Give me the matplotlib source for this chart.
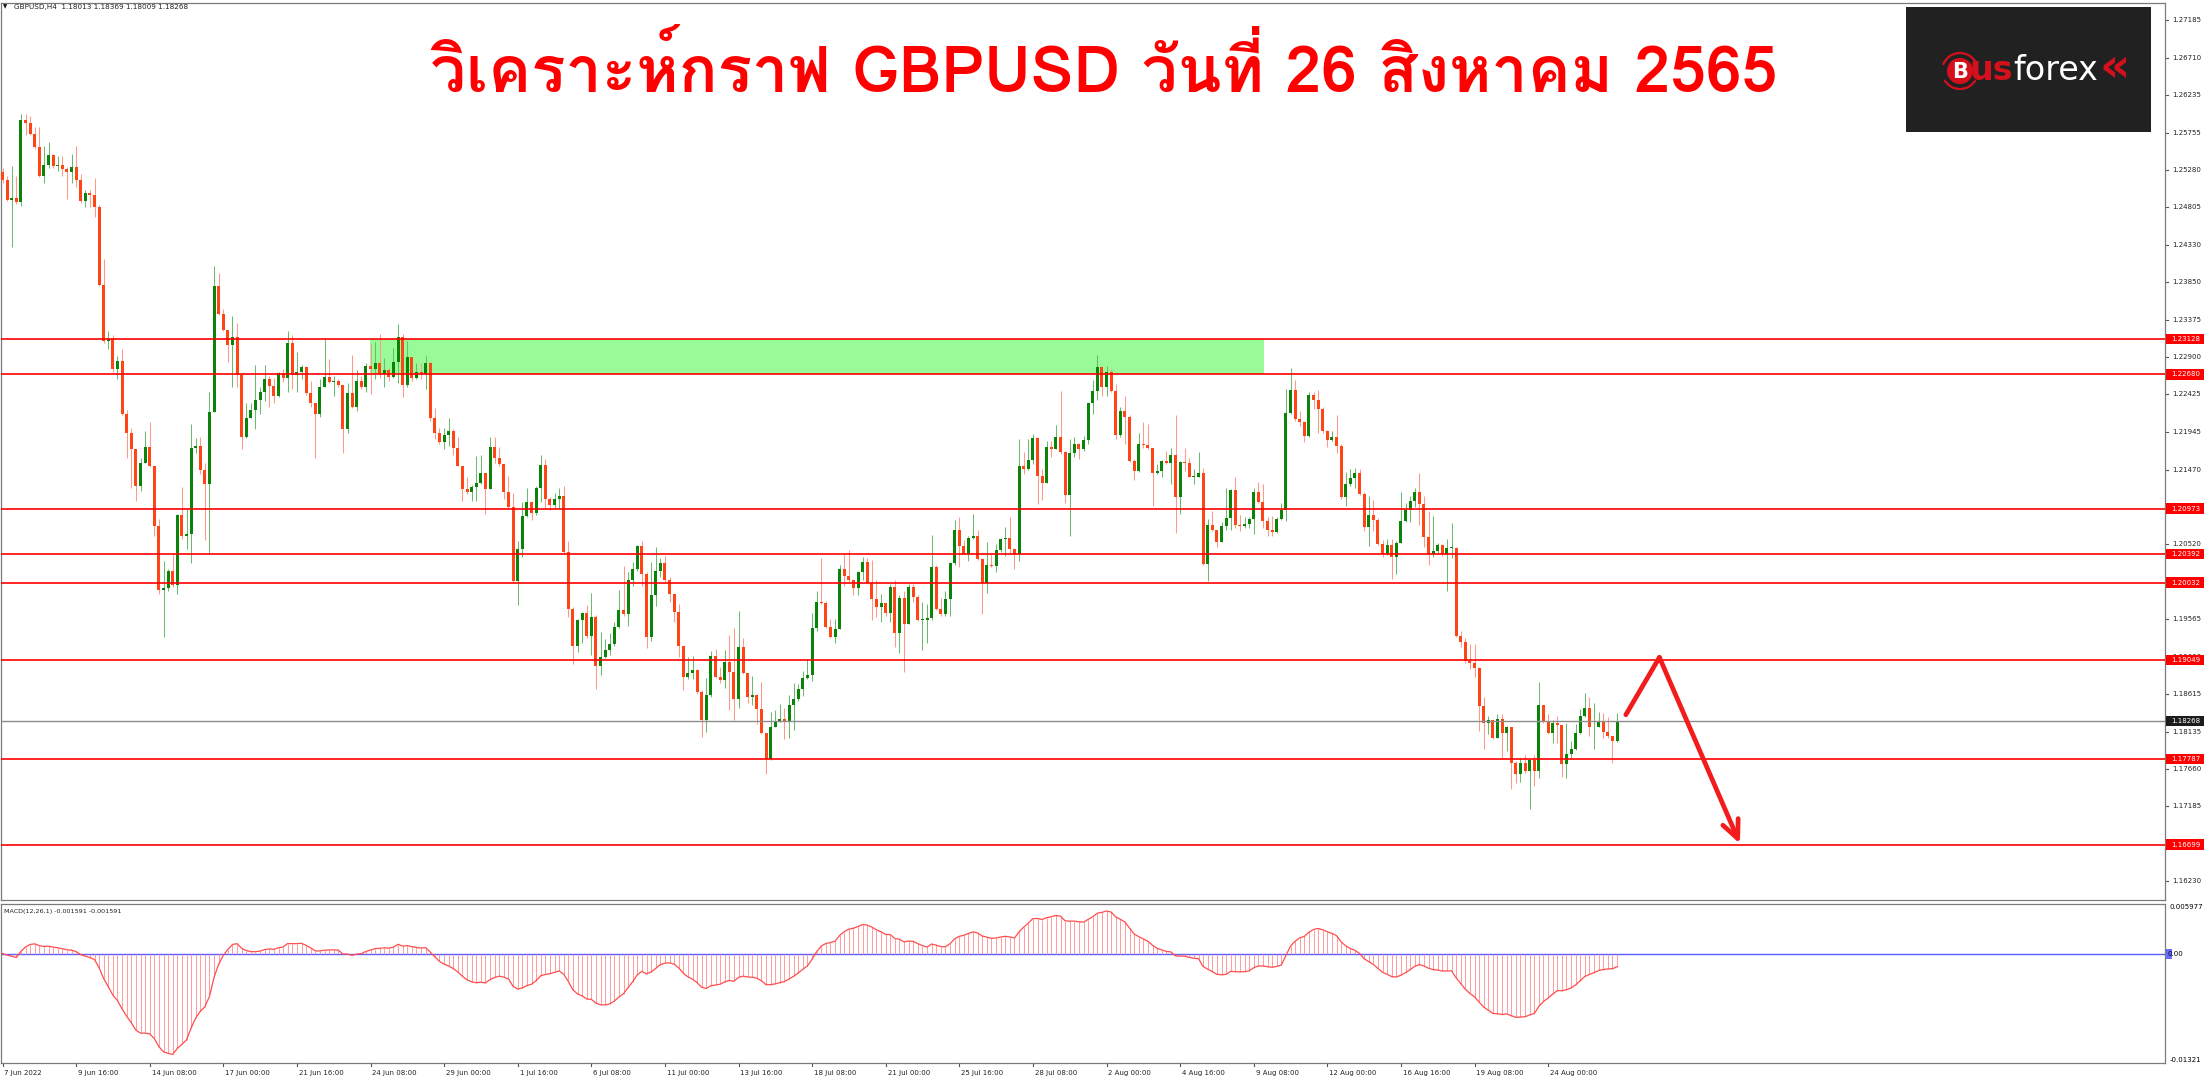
import numpy as np
import matplotlib
matplotlib.use('Agg')
import matplotlib.pyplot as plt
from matplotlib import font_manager
from matplotlib.ft2font import FT2Font
from matplotlib.font_manager import FontProperties
from matplotlib.patches import Rectangle, Circle, Arc

W, H = 2209, 1080

# GBPUSD H4, 7 Jun 2022 -> 26 Aug 2022 (open of each bar = previous close)
first_open = 1.2525
closes = [
    1.2515, 1.2490, 1.2493, 1.2487, 1.2592, 1.2588, 1.2574, 1.2557, 1.2521, 1.2535,
    1.2547, 1.2533, 1.2534, 1.2529, 1.2525, 1.2532, 1.2515, 1.2489, 1.2499, 1.2496,
    1.2481, 1.2382, 1.2310, 1.2313, 1.2275, 1.2285, 1.2218, 1.2193, 1.2173, 1.2126,
    1.2155, 1.2176, 1.2152, 1.2075, 1.1994, 1.1996, 1.2018, 1.2000, 1.2089, 1.2062,
    1.2065, 1.2175, 1.2177, 1.2146, 1.2128, 1.2220, 1.2380, 1.2345, 1.2324, 1.2305,
    1.2315, 1.2267, 1.2189, 1.2212, 1.2223, 1.2235, 1.2245, 1.2262, 1.2253, 1.2241,
    1.2270, 1.2264, 1.2308, 1.2267, 1.2271, 1.2277, 1.2244, 1.2232, 1.2217, 1.2252,
    1.2265, 1.2258, 1.2260, 1.2255, 1.2199, 1.2244, 1.2227, 1.2259, 1.2252, 1.2279,
    1.2275, 1.2282, 1.2268, 1.2274, 1.2265, 1.2284, 1.2316, 1.2255, 1.2290, 1.2264,
    1.2271, 1.2269, 1.2283, 1.2212, 1.2193, 1.2182, 1.2191, 1.2196, 1.2174, 1.2152,
    1.2122, 1.2118, 1.2125, 1.2130, 1.2142, 1.2122, 1.2176, 1.2162, 1.2154, 1.2119,
    1.2099, 1.2005, 1.2046, 1.2088, 1.2106, 1.2092, 1.2123, 1.2153, 1.2110, 1.2102,
    1.2110, 1.2113, 1.2042, 1.1969, 1.1923, 1.1955, 1.1965, 1.1935, 1.1959, 1.1897,
    1.1909, 1.1918, 1.1925, 1.1947, 1.1968, 1.1963, 1.2007, 1.2020, 1.2050, 1.2014,
    1.1934, 1.1987, 1.2018, 1.2028, 1.2006, 1.1989, 1.1966, 1.1923, 1.1883, 1.1888,
    1.1892, 1.1864, 1.1828, 1.1860, 1.1910, 1.1883, 1.1879, 1.1902, 1.1890, 1.1855,
    1.1921, 1.1888, 1.1857, 1.1860, 1.1842, 1.1812, 1.1779, 1.1820, 1.1826, 1.1830,
    1.1827, 1.1847, 1.1855, 1.1868, 1.1882, 1.1886, 1.1945, 1.1979, 1.1977, 1.1947,
    1.1934, 1.1944, 1.2021, 1.2011, 1.2006, 1.1996, 1.2016, 1.2029, 1.2003, 1.1982,
    1.1972, 1.1977, 1.1964, 1.1998, 1.1939, 1.1984, 1.1950, 1.1998, 1.1985, 1.1956,
    1.1956, 1.1958, 1.2023, 1.1970, 1.1963, 1.1982, 1.2028, 1.2070, 1.2050, 1.2040,
    1.2060, 1.2063, 1.2033, 1.2003, 1.2025, 1.2024, 1.2045, 1.2059, 1.2060, 1.2046,
    1.2039, 1.2152, 1.2148, 1.2159, 1.2187, 1.2139, 1.2130, 1.2176, 1.2173, 1.2188,
    1.2169, 1.2114, 1.2168, 1.2180, 1.2173, 1.2184, 1.2231, 1.2247, 1.2277, 1.2252,
    1.2271, 1.2247, 1.2191, 1.2221, 1.2214, 1.2158, 1.2145, 1.2180, 1.2178, 1.2174,
    1.2142, 1.2145, 1.2158, 1.2155, 1.2165, 1.2112, 1.2156, 1.2155, 1.2138, 1.2138,
    1.2143, 1.2027, 1.2077, 1.2070, 1.2055, 1.2075, 1.2085, 1.2121, 1.2077, 1.2075,
    1.2078, 1.2084, 1.2119, 1.2106, 1.2082, 1.2070, 1.2068, 1.2084, 1.2095, 1.2219,
    1.2248, 1.2211, 1.2208, 1.2190, 1.2242, 1.2236, 1.2224, 1.2196, 1.2184, 1.2189,
    1.2177, 1.2112, 1.2129, 1.2136, 1.2142, 1.2116, 1.2074, 1.2089, 1.2083, 1.2052,
    1.2039, 1.2051, 1.2036, 1.2054, 1.2081, 1.2095, 1.2107, 1.2119, 1.2103, 1.2061,
    1.2040, 1.2043, 1.2051, 1.2039, 1.2047, 1.2047, 1.1935, 1.1928, 1.1904, 1.1901,
    1.1895, 1.1846, 1.1825, 1.1828, 1.1806, 1.1829, 1.1812, 1.1819, 1.1774, 1.1760,
    1.1773, 1.1763, 1.1777, 1.1764, 1.1847, 1.1826, 1.1812, 1.1824, 1.1822, 1.1772,
    1.1785, 1.1791, 1.1812, 1.1833, 1.1843, 1.1819, 1.1819, 1.1826, 1.1813, 1.1808,
    1.1801, 1.18268,
]
highs = [
    1.2530, 1.2520, 1.2533, 1.2520, 1.2599, 1.2599, 1.2597, 1.2583, 1.2583, 1.2559,
    1.2564, 1.2549, 1.2546, 1.2546, 1.2532, 1.2549, 1.2558, 1.2523, 1.2503, 1.2502,
    1.2518, 1.2484, 1.2415, 1.2323, 1.2318, 1.2291, 1.2300, 1.2223, 1.2200, 1.2173,
    1.2162, 1.2196, 1.2207, 1.2152, 1.2084, 1.2030, 1.2020, 1.2040, 1.2090, 1.2125,
    1.2098, 1.2205, 1.2187, 1.2189, 1.2155, 1.2246, 1.2406, 1.2397, 1.2351, 1.2325,
    1.2342, 1.2334, 1.2268, 1.2232, 1.2232, 1.2280, 1.2252, 1.2280, 1.2266, 1.2264,
    1.2271, 1.2275, 1.2323, 1.2318, 1.2296, 1.2280, 1.2279, 1.2259, 1.2232, 1.2262,
    1.2314, 1.2288, 1.2266, 1.2262, 1.2255, 1.2257, 1.2293, 1.2273, 1.2266, 1.2282,
    1.2307, 1.2309, 1.2320, 1.2289, 1.2276, 1.2302, 1.2332, 1.2320, 1.2311, 1.2290,
    1.2282, 1.2282, 1.2291, 1.2284, 1.2225, 1.2200, 1.2200, 1.2212, 1.2198, 1.2189,
    1.2152, 1.2137, 1.2127, 1.2164, 1.2166, 1.2142, 1.2189, 1.2189, 1.2176, 1.2154,
    1.2139, 1.2117, 1.2056, 1.2106, 1.2123, 1.2107, 1.2126, 1.2165, 1.2161, 1.2112,
    1.2117, 1.2123, 1.2126, 1.2056, 1.1972, 1.1957, 1.1966, 1.1974, 1.1990, 1.1962,
    1.1940, 1.1931, 1.1939, 1.1953, 1.1994, 1.2024, 1.2016, 1.2029, 1.2051, 1.2056,
    1.2016, 1.2029, 1.2049, 1.2035, 1.2037, 1.2010, 1.1989, 1.1976, 1.1923, 1.1909,
    1.1910, 1.1893, 1.1867, 1.1882, 1.1916, 1.1919, 1.1896, 1.1918, 1.1937, 1.1945,
    1.1967, 1.1933, 1.1888, 1.1884, 1.1861, 1.1877, 1.1812, 1.1839, 1.1841, 1.1849,
    1.1843, 1.1860, 1.1875, 1.1874, 1.1891, 1.1906, 1.1965, 1.1992, 1.2035, 1.1980,
    1.1957, 1.1957, 1.2025, 1.2039, 1.2045, 1.2008, 1.2018, 1.2036, 1.2035, 1.2032,
    1.2006, 1.1989, 1.1970, 1.2001, 1.2006, 1.1987, 1.1993, 1.2001, 1.2001, 1.1987,
    1.1978, 1.1976, 1.2064, 1.2025, 1.1984, 1.1993, 1.2029, 1.2083, 1.2086, 1.2057,
    1.2063, 1.2090, 1.2070, 1.2035, 1.2055, 1.2040, 1.2052, 1.2060, 1.2074, 1.2087,
    1.2047, 1.2186, 1.2169, 1.2186, 1.2192, 1.2188, 1.2148, 1.2183, 1.2183, 1.2204,
    1.2247, 1.2171, 1.2186, 1.2188, 1.2181, 1.2190, 1.2233, 1.2261, 1.2293, 1.2277,
    1.2279, 1.2275, 1.2256, 1.2227, 1.2241, 1.2216, 1.2160, 1.2194, 1.2208, 1.2205,
    1.2175, 1.2154, 1.2159, 1.2171, 1.2175, 1.2216, 1.2158, 1.2175, 1.2162, 1.2148,
    1.2169, 1.2149, 1.2084, 1.2094, 1.2070, 1.2080, 1.2123, 1.2122, 1.2137, 1.2089,
    1.2086, 1.2086, 1.2124, 1.2131, 1.2129, 1.2086, 1.2088, 1.2086, 1.2105, 1.2250,
    1.2276, 1.2261, 1.2222, 1.2209, 1.2245, 1.2245, 1.2248, 1.2227, 1.2197, 1.2196,
    1.2216, 1.2179, 1.2144, 1.2148, 1.2149, 1.2148, 1.2118, 1.2113, 1.2108, 1.2085,
    1.2057, 1.2058, 1.2058, 1.2056, 1.2118, 1.2105, 1.2113, 1.2123, 1.2143, 1.2113,
    1.2094, 1.2088, 1.2054, 1.2052, 1.2058, 1.2079, 1.2049, 1.1942, 1.1933, 1.1925,
    1.1925, 1.1896, 1.1857, 1.1833, 1.1828, 1.1836, 1.1836, 1.1821, 1.1819, 1.1776,
    1.1780, 1.1784, 1.1778, 1.1784, 1.1877, 1.1848, 1.1836, 1.1828, 1.1833, 1.1822,
    1.1825, 1.1802, 1.1823, 1.1842, 1.1863, 1.1858, 1.1850, 1.1838, 1.1837, 1.1832,
    1.1808, 1.18369,
]
lows = [
    1.2512, 1.2488, 1.2430, 1.2485, 1.2482, 1.2573, 1.2572, 1.2555, 1.2519, 1.2512,
    1.2530, 1.2531, 1.2527, 1.2520, 1.2491, 1.2511, 1.2507, 1.2486, 1.2481, 1.2481,
    1.2468, 1.2380, 1.2308, 1.2300, 1.2271, 1.2262, 1.2216, 1.2162, 1.2123, 1.2107,
    1.2120, 1.2155, 1.2150, 1.2062, 1.1989, 1.1934, 1.1993, 1.1998, 1.1989, 1.2059,
    1.2046, 1.2028, 1.2168, 1.2141, 1.2057, 1.2040, 1.2220, 1.2343, 1.2323, 1.2284,
    1.2252, 1.2252, 1.2173, 1.2187, 1.2216, 1.2199, 1.2218, 1.2234, 1.2226, 1.2231,
    1.2239, 1.2258, 1.2246, 1.2250, 1.2246, 1.2262, 1.2242, 1.2227, 1.2162, 1.2214,
    1.2252, 1.2257, 1.2241, 1.2252, 1.2168, 1.2193, 1.2225, 1.2221, 1.2250, 1.2246,
    1.2243, 1.2262, 1.2264, 1.2252, 1.2259, 1.2264, 1.2257, 1.2239, 1.2252, 1.2259,
    1.2262, 1.2262, 1.2250, 1.2209, 1.2186, 1.2180, 1.2173, 1.2177, 1.2165, 1.2152,
    1.2107, 1.2116, 1.2107, 1.2107, 1.2129, 1.2091, 1.2122, 1.2155, 1.2151, 1.2110,
    1.2097, 1.2004, 1.1975, 1.2036, 1.2086, 1.2083, 1.2089, 1.2106, 1.2097, 1.2096,
    1.2098, 1.2098, 1.2040, 1.1959, 1.1899, 1.1915, 1.1926, 1.1933, 1.1911, 1.1868,
    1.1885, 1.1907, 1.1911, 1.1923, 1.1946, 1.1961, 1.1948, 1.1999, 1.2018, 1.1999,
    1.1920, 1.1929, 1.1973, 1.2010, 1.2003, 1.1979, 1.1953, 1.1909, 1.1866, 1.1880,
    1.1880, 1.1861, 1.1807, 1.1813, 1.1858, 1.1882, 1.1876, 1.1869, 1.1841, 1.1828,
    1.1843, 1.1887, 1.1850, 1.1847, 1.1823, 1.1810, 1.1759, 1.1777, 1.1819, 1.1826,
    1.1804, 1.1806, 1.1815, 1.1852, 1.1859, 1.1880, 1.1878, 1.1942, 1.1976, 1.1946,
    1.1933, 1.1926, 1.1944, 1.1999, 1.2004, 1.1987, 1.1987, 1.2006, 1.2001, 1.1955,
    1.1960, 1.1953, 1.1961, 1.1953, 1.1921, 1.1913, 1.1890, 1.1950, 1.1978, 1.1954,
    1.1917, 1.1926, 1.1955, 1.1968, 1.1961, 1.1961, 1.1961, 1.2026, 1.2023, 1.2039,
    1.2031, 1.2059, 1.2032, 1.1963, 1.1990, 1.2023, 1.2016, 1.2042, 1.2037, 1.2040,
    1.2021, 1.2030, 1.2141, 1.2146, 1.2154, 1.2103, 1.2108, 1.2130, 1.2163, 1.2173,
    1.2167, 1.2105, 1.2063, 1.2163, 1.2160, 1.2170, 1.2180, 1.2218, 1.2235, 1.2241,
    1.2241, 1.2245, 1.2186, 1.2189, 1.2180, 1.2157, 1.2134, 1.2144, 1.2175, 1.2173,
    1.2101, 1.2141, 1.2137, 1.2154, 1.2129, 1.2066, 1.2090, 1.2145, 1.2137, 1.2129,
    1.2138, 1.2025, 1.2005, 1.2069, 1.2048, 1.2055, 1.2070, 1.2070, 1.2073, 1.2069,
    1.2073, 1.2073, 1.2065, 1.2105, 1.2073, 1.2063, 1.2063, 1.2066, 1.2083, 1.2081,
    1.2218, 1.2209, 1.2203, 1.2182, 1.2189, 1.2224, 1.2194, 1.2193, 1.2176, 1.2183,
    1.2168, 1.2109, 1.2100, 1.2126, 1.2124, 1.2115, 1.2069, 1.2050, 1.2069, 1.2051,
    1.2036, 1.2038, 1.2008, 1.2014, 1.2053, 1.2080, 1.2080, 1.2099, 1.2077, 1.2048,
    1.2026, 1.2036, 1.2040, 1.2037, 1.1993, 1.2035, 1.1934, 1.1921, 1.1901, 1.1893,
    1.1883, 1.1814, 1.1791, 1.1810, 1.1804, 1.1805, 1.1780, 1.1789, 1.1741, 1.1748,
    1.1750, 1.1761, 1.1715, 1.1744, 1.1755, 1.1825, 1.1811, 1.1799, 1.1799, 1.1756,
    1.1755, 1.1780, 1.1790, 1.1810, 1.1832, 1.1808, 1.1792, 1.1819, 1.1806, 1.1806,
    1.1774, 1.18009,
]

levels = [1.23128, 1.22680, 1.20973, 1.20392, 1.20032, 1.19049, 1.17787, 1.16699]
last_price = 1.18268
zone_x = [79.9, 274.3]
zone_y = [1.22680, 1.23128]
price_ticks = [1.27185, 1.26710, 1.26235, 1.25755, 1.25280, 1.24805, 1.24330, 1.23850,
               1.23375, 1.22900, 1.22425, 1.21945, 1.21470, 1.20995, 1.20520, 1.20045,
               1.19565, 1.19090, 1.18615, 1.18135, 1.17660, 1.17185, 1.16710, 1.16230]
date_labels = ['7 Jun 2022', '9 Jun 16:00', '14 Jun 08:00', '17 Jun 00:00', '21 Jun 16:00',
               '24 Jun 08:00', '29 Jun 00:00', '1 Jul 16:00', '6 Jul 08:00', '11 Jul 00:00',
               '13 Jul 16:00', '18 Jul 08:00', '21 Jul 00:00', '25 Jul 16:00', '28 Jul 08:00',
               '2 Aug 00:00', '4 Aug 16:00', '9 Aug 08:00', '12 Aug 00:00', '16 Aug 16:00',
               '19 Aug 08:00', '24 Aug 00:00']
date_pos = list(range(0, 16 * len(date_labels), 16))
arrow_x = [352.9, 360.2, 377.7]
arrow_y = [1.1835, 1.1908, 1.1671]
macd_top, macd_bottom = 0.005977, -0.01321

title_text = 'วิเคราะห์กราฟ GBPUSD วันที่ 26 สิงหาคม 2565'
header_text = 'GBPUSD,H4  1.18013 1.18369 1.18009 1.18268'
macd_text = 'MACD(12,26,1) -0.001591 -0.001591'

plt.rcParams['font.family'] = ['DejaVu Sans']


def thai_font():
    found = []
    for f in font_manager.fontManager.ttflist:
        try:
            cmap = FT2Font(f.fname).get_charmap()
        except Exception:
            continue
        if 0x0E27 in cmap and 0x0E2A in cmap and 0x0047 in cmap:
            found.append(f.fname)
    if not found:
        return None
    bold = [p for p in found if 'bold' in p.lower()]
    return (bold or found)[0]


def fx(px):
    return px / W


def fy(py):
    return 1 - py / H


def price_at(py):
    return 1.23128 - (py - 339.2) / 7860


def idx_at(px):
    return (px - 2.5) / 4.6


fig = plt.figure(figsize=(W / 100, H / 100), dpi=100)
fig.patch.set_facecolor('white')

# ---- price panel
ax = fig.add_axes([fx(1), fy(900), fx(2165) - fx(1), fy(3) - fy(900)])
ax.set_xlim(idx_at(1), idx_at(2165))
ax.set_ylim(price_at(900), price_at(3))
ax.set_xticks([])
ax.set_yticks([])
for s in ax.spines.values():
    s.set_color('#7a7a7a')
    s.set_linewidth(0.9)

c = np.array(closes)
o = np.array([first_open] + closes[:-1])
h = np.maximum(np.array(highs), np.maximum(o, c))
l = np.minimum(np.array(lows), np.minimum(o, c))
idx = np.arange(len(c))
up = c >= o
dn = ~up

ax.add_patch(Rectangle((zone_x[0], zone_y[0]), zone_x[1] - zone_x[0], zone_y[1] - zone_y[0],
                       fc='#98fb98', ec='none', zorder=1))

ax.vlines(idx[up], l[up], h[up], color='#6cbb6c', lw=0.75, zorder=2)
ax.vlines(idx[dn], l[dn], h[dn], color='#ff9a8a', lw=0.75, zorder=2)
body = np.maximum(np.abs(c - o), 0.0001)
bottom = np.minimum(o, c)
ax.bar(idx[up], body[up], bottom=bottom[up], width=0.62, color='#0b830b', lw=0, zorder=3)
ax.bar(idx[dn], body[dn], bottom=bottom[dn], width=0.62, color='#ff4516', lw=0, zorder=3)

for lv in levels:
    ax.axhline(lv, color='#ff0000', lw=1.2, zorder=4)
ax.axhline(last_price, color='#8c8c8c', lw=1.0, zorder=4)

# forecast arrow
ax.plot(arrow_x[:2], arrow_y[:2], color='#f21c1c', lw=3.4, solid_capstyle='round', zorder=6)
ax.annotate('', xy=(arrow_x[2], arrow_y[2]), xytext=(arrow_x[1], arrow_y[1]),
            arrowprops=dict(arrowstyle='->,head_length=1.3,head_width=0.6', color='#f21c1c',
                            lw=3.4, shrinkA=0, shrinkB=0, capstyle='round', joinstyle='round'),
            zorder=6)

# right price scale
yt = ax.get_yaxis_transform()
ax_w = 2164.0
for t in price_ticks:
    ax.plot([1.0, 1.0 + 3 / ax_w], [t, t], transform=yt, color='#555555', lw=0.8, clip_on=False)
    ax.text(1.0 + 7 / ax_w, t, f'{t:.5f}', transform=yt, fontsize=5, va='center', ha='left',
            color='#222222', clip_on=False, zorder=5)
box_h = 5.2 / 7860
for lv in levels + [last_price]:
    fc = '#ff0000' if lv != last_price else '#1c1c1c'
    ax.add_patch(Rectangle((1.0 + 1 / ax_w, lv - box_h), 38 / ax_w, 2 * box_h, transform=yt,
                           fc=fc, ec='none', clip_on=False, zorder=7))
    ax.text(1.0 + 6 / ax_w, lv, f'{lv:.5f}', transform=yt, fontsize=5, va='center', ha='left',
            color='white', clip_on=False, zorder=8)

# ---- MACD panel
ax2 = fig.add_axes([fx(1), fy(1063), fx(2165) - fx(1), fy(904) - fy(1063)])
ax2.set_xlim(idx_at(1), idx_at(2165))
ax2.set_ylim(macd_bottom, macd_top)
ax2.set_xticks([])
ax2.set_yticks([])
for s in ax2.spines.values():
    s.set_color('#7a7a7a')
    s.set_linewidth(0.9)


def ema(vals, n):
    k = 2.0 / (n + 1)
    out = []
    e = vals[0]
    for v in vals:
        e = e + k * (v - e)
        out.append(e)
    return np.array(out)


macd = ema(c, 12) - ema(c, 26)
ax2.axhline(0, color='#5a5aff', lw=1.0, zorder=2)
ax2.vlines(idx, 0, macd, color='#ff8c8c', lw=0.6, zorder=3)
ax2.plot(idx, macd, color='#ff4d4d', lw=0.9, zorder=4)

ax2.text(0.0015, 0.97, macd_text, transform=ax2.transAxes, fontsize=4.6, va='top', ha='left',
         color='#222222')
yt2 = ax2.get_yaxis_transform()
ax2.text(1.0 + 5 / ax_w, macd_top, '0.005977', transform=yt2, fontsize=5, va='top', ha='left',
         clip_on=False)
ax2.text(1.0 + 5 / ax_w, macd_bottom, '-0.01321', transform=yt2, fontsize=5, va='bottom',
         ha='left', clip_on=False)
zh = 5 * (macd_top - macd_bottom) / 159
ax2.add_patch(Rectangle((1.0 + 1 / ax_w, -zh), 6 / ax_w, 2 * zh, transform=yt2, fc='#6b6bff',
                        ec='none', clip_on=False, zorder=7))
ax2.text(1.0 + 2 / ax_w, 0, '0.00', transform=yt2, fontsize=5, va='center', ha='left',
         clip_on=False, zorder=8)

# time axis
xt = ax2.get_xaxis_transform()
for p, lab in zip(date_pos, date_labels):
    ax2.plot([p, p], [0, -3 / 159], transform=xt, color='#555555', lw=0.8, clip_on=False)
    ax2.text(p + 0.4, -10 / 159, lab, transform=xt, fontsize=5, va='center', ha='left',
             color='#222222', clip_on=False)

# ---- header and title
fig.text(fx(3), fy(7), '▼', fontsize=4, va='center', ha='left', color='#111111')
fig.text(fx(14), fy(7), header_text, fontsize=5.2, va='center', ha='left', color='#222222')

tpath = thai_font()
fp = FontProperties(fname=tpath) if tpath else FontProperties(family='DejaVu Sans', weight='bold')
title = fig.text(fx(1104), fy(92), title_text, fontproperties=fp, fontsize=40, color='#ff0000',
                 ha='center', va='baseline', zorder=9)
if not tpath or 'bold' not in tpath.lower():
    title.set_fontweight('bold')
renderer = fig.canvas.get_renderer()
bb = title.get_window_extent(renderer)
title.set_fontsize(40 * 1348 / bb.width)

# ---- logo
lax = fig.add_axes([fx(1906), fy(132), fx(2151) - fx(1906), fy(7) - fy(132)], zorder=10)
lax.set_xlim(0, 245)
lax.set_ylim(125, 0)
lax.set_facecolor('#212121')
lax.set_xticks([])
lax.set_yticks([])
for s in lax.spines.values():
    s.set_visible(False)
lax.add_patch(Circle((54, 64), 13, fc='#d4101c', ec='none'))
lax.add_patch(Arc((54, 64), 36, 36, theta1=200, theta2=330, color='#d4101c', lw=1.6))
lax.add_patch(Arc((54, 64), 36, 36, theta1=30, theta2=150, color='#d4101c', lw=1.6))
lax.text(54, 65, 'B', fontsize=15, fontweight='bold', color='white', ha='center', va='center')
t1 = lax.text(63, 73, 'us', fontsize=24, fontweight='bold', color='#d4101c', ha='left',
              va='baseline')
fig.canvas.draw()
e1 = t1.get_window_extent(renderer)
x2 = e1.x1 - fig.bbox.width * fx(1906)
t2 = lax.text(x2 + 1, 73, 'forex', fontsize=24, color='white', ha='left', va='baseline')
e2 = t2.get_window_extent(renderer)
x3 = e2.x1 - fig.bbox.width * fx(1906)
lax.text(x3 + 1, 73, '«', fontsize=34, fontweight='bold', color='#d4101c', ha='left',
         va='baseline')

fig.savefig('out.png', dpi=100, facecolor='white')
